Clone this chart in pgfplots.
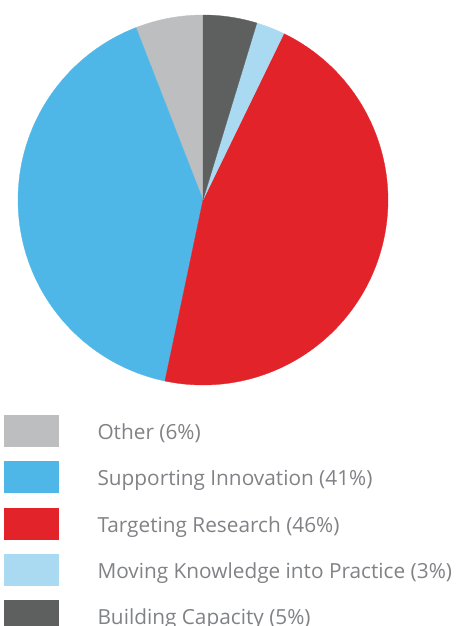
\documentclass[border=0pt]{standalone}
\usepackage{pgfplots}
\pgfplotsset{compat=1.18}
\usepgfplotslibrary{polar}
\usepackage{fontspec}
\setmainfont{Open Sans}
\definecolor{cOther}{HTML}{BCBEC0}
\definecolor{cSupp}{HTML}{4EB7E8}
\definecolor{cTarg}{HTML}{E2242A}
\definecolor{cMove}{HTML}{A9DAF1}
\definecolor{cBuild}{HTML}{5E5F5F}
\definecolor{txt}{HTML}{808285}
% shares (percent), clockwise from 12 o'clock: Building, Moving, Targeting, Supporting, Other
\def\pOther{5.9}
\def\pSupp{40.8}
\def\pTarg{46.1}
\def\pMove{2.5}
\def\pBuild{4.7}
\pgfmathsetmacro\aA{90}
\pgfmathsetmacro\aB{\aA+3.6*\pOther}
\pgfmathsetmacro\aC{\aB+3.6*\pSupp}
\pgfmathsetmacro\aD{\aC+3.6*\pTarg}
\pgfmathsetmacro\aE{\aD+3.6*\pMove}
\pgfmathsetmacro\aF{\aE+3.6*\pBuild}
\begin{document}
\begin{tikzpicture}
\useasboundingbox (0,0) rectangle (463pt,626pt);
\begin{polaraxis}[
  at={(203pt,426pt)}, anchor=origin,
  width=370pt, height=370pt, scale only axis,
  ymin=0, ymax=1, xmin=0, xmax=360,
  hide axis, clip=false,
  legend style={at={(-0.0378,-0.0811)}, anchor=north west, draw=none, fill=none,
    inner sep=0pt, row sep=14.9pt, column sep=39pt,
    nodes={inner sep=0pt, text=txt, text height=14pt, text depth=4pt,
      font=\fontsize{20.8pt}{24pt}\selectfont}},
  legend cell align=left,
  legend image code/.code={\fill[#1] (0pt,-11.7pt) rectangle (54pt,19.3pt);},
]
\addplot[fill=cOther, draw=cOther, line width=0.3pt, domain=\aA:\aB, samples=40] {1} -- (axis cs:0,0) -- cycle;
\addlegendentry{Other (6\%)}
\addplot[fill=cSupp, draw=cSupp, line width=0.3pt, domain=\aB:\aC, samples=120] {1} -- (axis cs:0,0) -- cycle;
\addlegendentry{Supporting Innovation (41\%)}
\addplot[fill=cTarg, draw=cTarg, line width=0.3pt, domain=\aC:\aD, samples=120] {1} -- (axis cs:0,0) -- cycle;
\addlegendentry{Targeting Research (46\%)}
\addplot[fill=cMove, draw=cMove, line width=0.3pt, domain=\aD:\aE, samples=20] {1} -- (axis cs:0,0) -- cycle;
\addlegendentry{Moving Knowledge into Practice (3\%)}
\addplot[fill=cBuild, draw=cBuild, line width=0.3pt, domain=\aE:\aF, samples=30] {1} -- (axis cs:0,0) -- cycle;
\addlegendentry{Building Capacity (5\%)}
\end{polaraxis}
\end{tikzpicture}
\end{document}
